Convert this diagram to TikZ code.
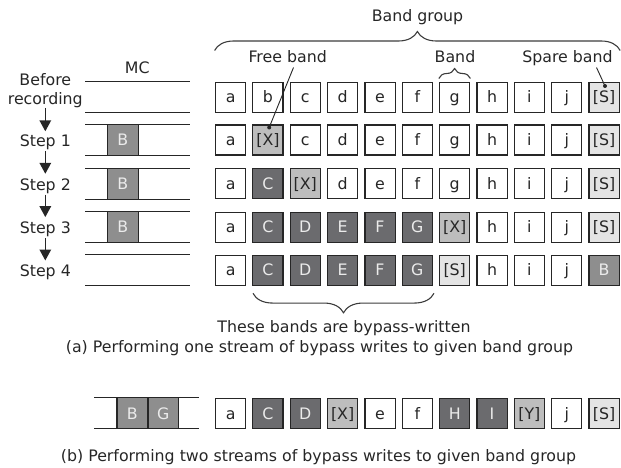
\documentclass[tikz,border=0pt]{standalone}
\usepackage{fontspec}
\setmainfont{DejaVu Sans}
\usetikzlibrary{decorations.pathreplacing,arrows.meta}
\definecolor{ink}{HTML}{262626}
\definecolor{darkband}{HTML}{6B6B6E}
\definecolor{midband}{HTML}{8E8E8E}
\definecolor{freeband}{HTML}{BDBDBD}
\definecolor{spareband}{HTML}{E4E4E4}
\definecolor{paletext}{HTML}{EBEBEB}
\tikzset{
  band/.style={draw=ink, line width=1.2pt, minimum width=30.2pt, minimum height=30pt,
    inner sep=0pt, text height=11.5pt, text depth=0pt, anchor=center},
  wb/.style={band, fill=white, text=ink},
  db/.style={band, fill=darkband, text=paletext},
  mb/.style={band, fill=midband, text=paletext},
  xb/.style={band, fill=freeband, text=ink},
  sb/.style={band, fill=spareband, text=ink},
  lbl/.style={inner sep=0pt, text height=11.5pt, text depth=3.5pt, anchor=base, text=ink},
  mcline/.style={draw=ink, line width=1.2pt},
  stepar/.style={draw=ink, line width=1.6pt, -{Triangle[length=11pt,width=11.5pt]},
    shorten <=1pt, shorten >=4.5pt},
  lead/.style={draw=ink, line width=0.9pt},
  leaddot/.style={circle, fill=ink, inner sep=0pt, minimum size=4pt},
  bracket/.style={draw=ink!90, line width=1.1pt, decorate},
}
\begin{document}
\begin{tikzpicture}[x=1pt, y=-1pt, font=\fontsize{15.8}{18.6}\selectfont]
\useasboundingbox (0,0) rectangle (621,468);

% ---- step labels on the left ----
\node[lbl] (before) at (45.3,85.7) {Before};
\node[lbl] (rec)    at (45.3,104.3) {recording};
\node[lbl] (s1) at (45.3,146.5) {Step 1};
\node[lbl] (s2) at (45.3,190.0) {Step 2};
\node[lbl] (s3) at (45.3,233.3) {Step 3};
\node[lbl] (s4) at (45.3,276.7) {Step 4};
\draw[stepar, shorten <=0pt, shorten >=3.5pt] (rec.south) -- (s1.north);
\draw[stepar] (s1.south) -- (s2.north);
\draw[stepar] (s2.south) -- (s3.north);
\draw[stepar] (s3.south) -- (s4.north);

% ---- MC (media cache) strips ----
\node[lbl] (mc) at (137.3,73.3) {MC};
\foreach \yc in {97.2,140.1,183.8,227.2,270.2}{
  \draw[mcline] (85,\yc-15.5) -- (190,\yc-15.5);
  \draw[mcline] (85,\yc+15.5) -- (190,\yc+15.5);
}
\node[mb, minimum width=30.6pt, minimum height=31pt] (mc1) at (122.8,140.1) {B};
\node[mb, minimum width=30.6pt, minimum height=31pt] (mc2) at (122.8,183.8) {B};
\node[mb, minimum width=30.6pt, minimum height=31pt] (mc3) at (122.8,227.2) {B};

% ---- band rows ----
\foreach \lab/\sty [count=\k from 0] in {a/wb,b/wb,c/wb,d/wb,e/wb,f/wb,g/wb,h/wb,i/wb,j/wb,{[S]}/sb}
  \node[\sty] (r0c\k) at ({230.6+37.35*\k},97.2) {\lab};
\foreach \lab/\sty [count=\k from 0] in {a/wb,{[X]}/xb,c/wb,d/wb,e/wb,f/wb,g/wb,h/wb,i/wb,j/wb,{[S]}/sb}
  \node[\sty] (r1c\k) at ({230.6+37.35*\k},140.1) {\lab};
\foreach \lab/\sty [count=\k from 0] in {a/wb,C/db,{[X]}/xb,d/wb,e/wb,f/wb,g/wb,h/wb,i/wb,j/wb,{[S]}/sb}
  \node[\sty] (r2c\k) at ({230.6+37.35*\k},183.8) {\lab};
\foreach \lab/\sty [count=\k from 0] in {a/wb,C/db,D/db,E/db,F/db,G/db,{[X]}/xb,h/wb,i/wb,j/wb,{[S]}/sb}
  \node[\sty] (r3c\k) at ({230.6+37.35*\k},227.2) {\lab};
\foreach \lab/\sty [count=\k from 0] in {a/wb,C/db,D/db,E/db,F/db,G/db,{[S]}/sb,h/wb,i/wb,j/wb,B/mb}
  \node[\sty] (r4c\k) at ({230.6+37.35*\k},270.2) {\lab};

% ---- braces and callouts ----
\draw[bracket, decoration={brace, amplitude=19pt}] (214.6,50.5) -- (620.2,50.5);
\node[lbl] (bgroup) at (417.5,21.7) {Band group};
\draw[bracket, decoration={brace, amplitude=10pt}] (438.8,78.5) -- (470.4,78.5);
\node[lbl] (bandlbl) at (455,62.7) {Band};
\node[lbl] (freelbl) at (287.7,62.7) {Free band};
\node[lbl] (sparelbl) at (567.5,62.7) {Spare band};
\node[leaddot] (freedot) at (269.2,127.5) {};
\node[leaddot] (sparedot) at (605,86) {};
\coordinate (freefoot) at (293.5,67.5);
\coordinate (sparefoot) at (596.5,67.5);
\draw[lead] (freefoot) -- (freedot.center);
\draw[lead] (sparefoot) -- (sparedot.center);

\draw[bracket, decoration={brace, amplitude=19.5pt, mirror}] (253,293.3) -- (434,293.3);
\node[lbl] (bypass) at (344,332.3) {These bands are bypass-written};
\node[lbl] (capa) at (319.5,352.6) {(a) Performing one stream of bypass writes to given band group};

% ---- two streams ----
\draw[mcline] (94,397.8) -- (199,397.8);
\draw[mcline] (94,428.8) -- (199,428.8);
\node[mb, minimum width=30.6pt, minimum height=31pt] (mcb) at (132.2,413.3) {B};
\node[mb, minimum width=30.6pt, minimum height=31pt] (mcg) at (163.3,413.3) {G};
\foreach \lab/\sty [count=\k from 0] in {a/wb,C/db,D/db,{[X]}/xb,e/wb,f/wb,H/db,I/db,{[Y]}/xb,j/wb,{[S]}/sb}
  \node[\sty] (rbc\k) at ({230.6+37.35*\k},413.3) {\lab};
\node[lbl] (capb) at (318.5,461.6) {(b) Performing two streams of bypass writes to given band group};
\end{tikzpicture}
\end{document}
